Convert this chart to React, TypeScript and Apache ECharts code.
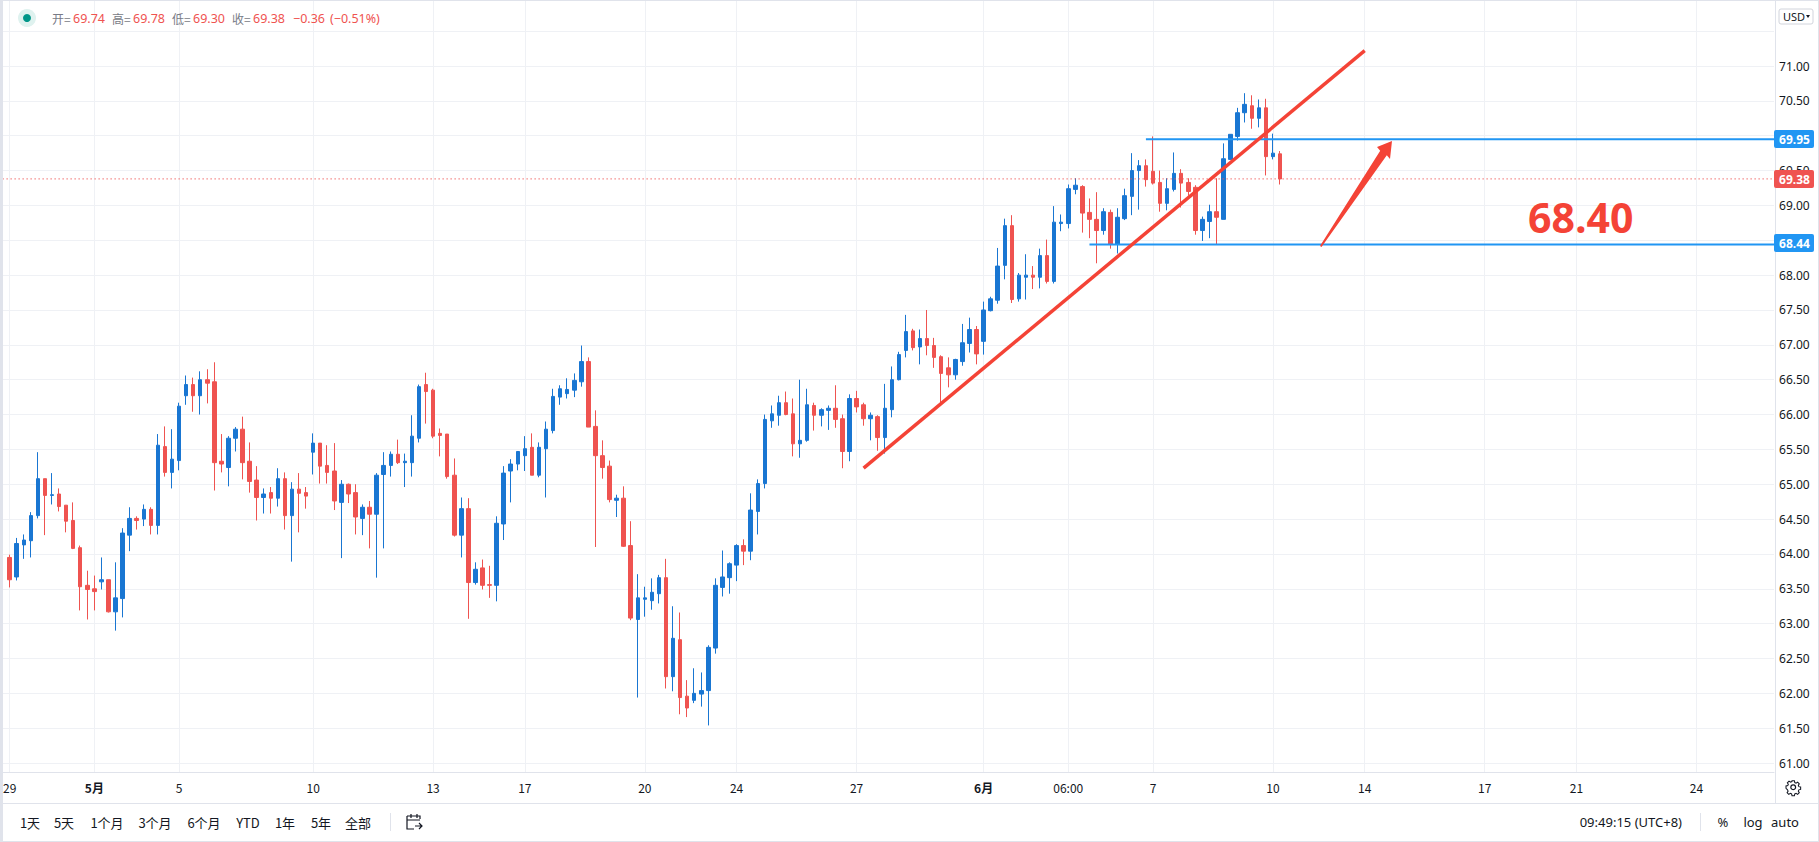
import React, { useEffect, useRef } from "react";
import * as echarts from "echarts";

// [open, close, low, high]
const candles: number[][] = [
  [63.95,63.63,63.52,63.99],[63.67,64.15,63.62,64.23],[64.13,64.20,63.93,64.28],[64.19,64.55,63.95,64.60],[64.55,65.08,64.51,65.46],
  [65.08,64.84,64.27,65.08],[64.84,64.85,64.71,65.16],[64.86,64.68,64.61,64.94],[64.70,64.47,64.31,64.70],[64.48,64.08,64.07,64.74],
  [64.09,63.53,63.19,64.12],[63.55,63.49,63.06,63.76],[63.50,63.46,63.19,63.69],[63.60,63.63,63.49,63.95],[63.63,63.17,63.16,63.63],
  [63.17,63.37,62.90,63.88],[63.36,64.30,63.09,64.37],[64.27,64.51,64.04,64.67],[64.51,64.48,64.35,64.54],[64.50,64.64,64.40,64.71],
  [64.64,64.41,64.28,64.67],[64.41,65.56,64.28,65.72],[65.54,65.17,65.11,65.83],[65.17,65.36,64.94,65.79],[65.34,66.12,65.20,66.17],
  [66.27,66.43,66.14,66.56],[66.43,66.27,66.04,66.53],[66.27,66.50,66.00,66.62],[66.50,66.45,66.16,66.65],[66.47,65.31,64.91,66.75],
  [65.33,65.29,65.17,65.72],[65.24,65.66,64.97,65.69],[65.66,65.79,65.47,65.82],[65.79,65.31,65.07,65.97],[65.33,65.04,64.88,65.60],
  [65.06,64.81,64.48,65.26],[64.81,64.86,64.58,64.94],[64.88,64.80,64.58,64.96],[64.80,65.08,64.68,65.23],[65.08,64.55,64.35,65.17],
  [64.55,64.93,63.89,65.03],[64.93,64.87,64.31,65.16],[64.88,64.83,64.65,64.96],[65.46,65.59,65.14,65.73],[65.59,65.26,65.01,65.59],
  [65.27,65.17,65.01,65.56],[65.19,64.76,64.63,65.59],[64.74,65.00,63.94,65.06],[65.00,64.86,64.73,65.01],[64.88,64.53,64.28,65.00],
  [64.51,64.67,64.27,64.71],[64.67,64.57,64.08,64.76],[64.57,65.13,63.66,65.16],[65.14,65.27,64.08,65.46],[65.27,65.43,65.11,65.47],
  [65.43,65.31,65.29,65.64],[65.31,65.33,64.96,65.44],[65.31,65.69,65.11,65.99],[65.66,66.40,65.60,66.43],[66.43,66.33,65.87,66.60],
  [66.35,65.69,65.66,66.37],[65.73,65.70,65.40,65.80],[65.72,65.11,65.08,65.72],[65.13,64.27,64.25,65.37],[64.27,64.65,63.95,64.81],
  [64.65,63.59,63.07,64.80],[63.59,63.78,63.56,63.88],[63.80,63.55,63.49,63.92],[63.56,63.55,63.37,63.83],[63.55,64.44,63.32,64.54],
  [64.43,65.16,64.20,65.26],[65.19,65.29,64.74,65.36],[65.29,65.47,65.20,65.47],[65.41,65.51,65.19,65.69],[65.53,65.13,65.13,65.73],
  [65.13,65.53,65.10,65.60],[65.51,65.79,64.81,65.90],[65.77,66.26,65.73,66.37],[66.25,66.37,66.14,66.42],[66.30,66.36,66.23,66.52],
  [66.35,66.49,66.25,66.59],[66.47,66.76,66.40,66.99],[66.76,65.82,65.82,66.82],[65.83,65.41,64.10,66.06],[65.41,65.24,65.08,65.63],
  [65.26,64.78,64.74,65.34],[64.77,64.80,64.53,64.85],[64.80,64.11,64.10,64.97],[64.12,63.08,63.05,64.47],[63.06,63.37,61.94,63.71],
  [63.35,63.37,63.10,63.53],[63.33,63.45,63.20,63.65],[63.43,63.66,63.29,63.70],[63.66,62.24,62.07,63.93],[62.24,62.79,62.03,63.25],
  [62.77,61.94,61.70,63.16],[61.96,61.79,61.66,62.19],[61.90,62.00,61.86,62.36],[61.99,62.04,61.81,62.30],[62.04,62.66,61.54,62.69],
  [62.65,63.55,62.57,63.65],[63.52,63.67,63.39,64.05],[63.66,63.86,63.43,63.88],[63.84,64.12,63.61,64.14],[64.12,64.04,63.84,64.21],
  [64.04,64.63,63.91,64.87],[64.61,65.01,64.28,65.07],[65.01,65.93,64.94,66.00],[65.91,66.01,65.81,66.13],[65.99,66.17,65.84,66.27],
  [66.17,66.00,65.99,66.33],[66.01,65.58,65.40,66.23],[65.58,65.63,65.38,66.50],[65.63,66.14,65.61,66.37],[66.13,65.99,65.77,66.17],
  [65.99,66.07,65.83,66.09],[66.06,66.09,65.78,66.13],[66.09,65.93,65.81,66.42],[65.94,65.47,65.23,66.00],[65.47,66.23,65.33,66.29],
  [66.23,66.11,66.03,66.34],[66.14,65.94,65.84,66.17],[65.94,65.99,65.63,66.03],[65.97,65.67,65.48,65.99],[65.67,66.09,65.44,66.44],
  [66.07,66.50,65.96,66.69],[66.50,66.86,66.49,66.90],[66.92,67.19,66.82,67.43],[67.20,66.96,66.92,67.23],[66.97,67.09,66.72,67.22],
  [67.09,66.99,66.85,67.50],[66.99,66.82,66.67,67.10],[66.83,66.59,66.17,66.85],[66.67,66.57,66.39,66.82],[66.57,66.79,66.50,66.80],
  [66.76,67.03,66.70,67.30],[67.02,67.22,66.89,67.39],[67.22,66.87,66.72,67.27],[67.05,67.50,66.86,67.62],[67.49,67.66,67.48,67.69],
  [67.64,68.13,67.59,68.39],[68.14,68.71,67.94,68.81],[68.71,67.65,67.60,68.86],[67.66,68.00,67.62,68.03],[67.97,68.00,67.65,68.30],
  [68.00,67.97,67.80,68.13],[67.97,68.28,67.81,68.38],[68.28,67.91,67.88,68.51],[67.91,68.76,67.88,68.99],[68.74,68.76,68.63,68.87],
  [68.74,69.24,68.67,69.30],[69.23,69.29,69.16,69.39],[69.27,68.89,68.61,69.29],[68.90,68.80,68.53,69.10],[68.80,68.64,68.17,69.19],
  [68.64,68.91,68.58,68.96],[68.90,68.44,68.38,68.94],[68.44,68.83,68.31,68.96],[68.81,69.14,68.79,69.24],[69.13,69.50,68.86,69.75],
  [69.50,69.57,68.94,69.65],[69.57,69.37,69.27,69.66],[69.49,69.32,69.30,69.99],[69.33,69.03,68.91,69.50],[69.03,69.24,68.93,69.39],
  [69.23,69.46,69.20,69.76],[69.46,69.32,68.97,69.52],[69.33,69.20,69.14,69.39],[69.26,68.64,68.58,69.29],[68.64,68.80,68.49,68.84],
  [68.77,68.91,68.53,69.01],[68.91,68.83,68.44,69.39],[68.80,69.67,68.80,69.89],[69.66,70.02,69.66,70.02],[69.99,70.33,69.93,70.40],
  [70.33,70.45,70.19,70.61],[70.43,70.25,70.10,70.58],[70.25,70.40,70.12,70.52],[70.40,69.70,69.43,70.53],[69.70,69.75,69.66,70.03],
  [69.74,69.38,69.30,69.78],
];

const slotCount = 252;
const xTickSlots = [1, 13, 25, 44, 61, 74, 91, 104, 121, 139, 151, 163, 180, 193, 210, 223, 240];
const xTickLabels = ["29", "5月", "5", "10", "13", "17", "20", "24", "27", "6月", "06:00", "7", "10", "14", "17", "21", "24"];
const yGridValues = [61, 61.5, 62, 62.5, 63, 63.5, 64, 64.5, 65, 65.5, 66, 66.5, 67, 67.5, 68, 68.5, 69, 69.5, 70, 70.5, 71, 71.5];
const yLabelValues = [61, 61.5, 62, 62.5, 63, 63.5, 64, 64.5, 65, 65.5, 66, 66.5, 67, 67.5, 68, 68.5, 69, 69.5, 70, 70.5, 71];

const trendLine = [[122, 65.23], [193, 71.22]];
const resistanceLine = [[162, 69.95], [251, 69.95]];
const supportLine = [[154, 68.44], [251, 68.44]];
const lastPriceLine = [[0, 69.38], [251, 69.38]];

const headerItems = [
  { label: "开=", value: "69.74", lx: 52, vx: 73 },
  { label: "高=", value: "69.78", lx: 112, vx: 133 },
  { label: "低=", value: "69.30", lx: 172, vx: 193 },
  { label: "收=", value: "69.38", lx: 232, vx: 253 },
];
const rangeButtons = [
  ["1天", 30], ["5天", 64], ["1个月", 107], ["3个月", 155], ["6个月", 204],
  ["YTD", 248], ["1年", 285], ["5年", 321], ["全部", 358],
] as [string, number][];
const priceTags = [
  { text: "69.95", y: 139, color: "#2196f3" },
  { text: "69.38", y: 179, color: "#ef5350" },
  { text: "68.44", y: 243, color: "#2196f3" },
];

const CJK = '"Noto Sans CJK SC","Noto Sans",sans-serif';
const LATIN = '"Noto Sans","Noto Sans CJK SC",sans-serif';
const GRID = "#eff1f5";
const BORDER = "#e0e3eb";
const TEXT = "#131722";
const RED = "#ef5350";
const BLUE = "#1976d2";
const ANNOT = "#f44336";

echarts.graphic.registerShape(
  "gearIcon",
  echarts.graphic.extendPath(
    "M7.5 1h3l.5 2.2 1.6.7 1.9-1.2 2.1 2.1-1.2 1.9.7 1.6 2.2.5v3l-2.2.5-.7 1.6 1.2 1.9-2.1 2.1-1.9-1.2-1.6.7-.5 2.2h-3l-.5-2.2-1.6-.7-1.9 1.2-2.1-2.1 1.2-1.9-.7-1.6L0 10.5v-3l2.2-.5.7-1.6-1.2-1.9 2.1-2.1 1.9 1.2 1.6-.7z",
    {}
  )
);
echarts.graphic.registerShape(
  "dateIcon",
  echarts.graphic.extendPath("M1 2h13v3M1 2v13h7M1 6h13M5 0v4M11 0v4M9 12h7M13 9l3 3-3 3", {})
);

function lineSeries(data: number[][], color: string, width: number, type: any, z: number) {
  return {
    type: "line",
    data,
    silent: true,
    showSymbol: false,
    symbol: "none",
    z,
    lineStyle: { color, width, type },
    itemStyle: { color },
  };
}

export default function App() {
  const ref = useRef<HTMLDivElement>(null);
  useEffect(() => {
    document.body.style.margin = "0";
    document.body.style.overflow = "hidden";
    const chart = echarts.init(ref.current!, null, { renderer: "svg" });
    const categories: string[] = Array.from({ length: slotCount }, () => "");
    xTickSlots.forEach((s, i) => (categories[s] = xTickLabels[i]));
    const isTick = (i: number) => xTickSlots.includes(i);
    const seriesData: any[] = [["-", "-", "-", "-"], ...candles];

    const graphic: any[] = [
      { type: "rect", shape: { x: 0, y: 0, width: 3, height: 842 }, style: { fill: BORDER }, z: 100 },
      { type: "rect", shape: { x: 0, y: 0, width: 1819, height: 1 }, style: { fill: BORDER }, z: 100 },
      { type: "rect", shape: { x: 0, y: 841, width: 1819, height: 1 }, style: { fill: BORDER }, z: 100 },
      { type: "rect", shape: { x: 1818, y: 0, width: 1, height: 842 }, style: { fill: BORDER }, z: 100 },
      { type: "rect", shape: { x: 3, y: 803, width: 1816, height: 1 }, style: { fill: BORDER }, z: 100 },
      { type: "rect", shape: { x: 1775, y: 0, width: 1, height: 803 }, style: { fill: BORDER }, z: 100 },
      // legend dot
      { type: "circle", shape: { cx: 27, cy: 18, r: 9 }, style: { fill: "#dff2ef" }, z: 100 },
      { type: "circle", shape: { cx: 27, cy: 18, r: 4 }, style: { fill: "#009688" }, z: 101 },
      // annotation arrow
      {
        type: "polygon",
        shape: { points: [[1320, 246], [1380.2, 150.7], [1377, 147], [1392, 141], [1390, 159], [1386.8, 155.3], [1321.5, 247]] },
        style: { fill: ANNOT },
        z: 60,
      },
      {
        type: "text",
        x: 1528,
        y: 217,
        style: { text: "68.40", fill: ANNOT, font: `bold 41px "Open Sans",sans-serif`, textVerticalAlign: "middle", textAlign: "left" },
        z: 60,
      },
      // USD button
      {
        type: "rect",
        shape: { x: 1779, y: 9, width: 34, height: 15, r: 2 },
        style: { fill: "#fff", stroke: "#d1d4dc", lineWidth: 1 },
        z: 100,
      },
      {
        type: "text",
        x: 1783,
        y: 16.5,
        style: { text: "USD", fill: TEXT, font: `11px ${LATIN}`, textVerticalAlign: "middle" },
        z: 101,
      },
      { type: "polygon", shape: { points: [[1806, 15], [1810, 15], [1808, 18]] }, style: { fill: TEXT }, z: 101 },
      // toolbar separators + icons
      { type: "rect", shape: { x: 390, y: 813, width: 1, height: 18 }, style: { fill: BORDER }, z: 100 },
      { type: "rect", shape: { x: 1700, y: 813, width: 1, height: 18 }, style: { fill: BORDER }, z: 100 },
      { type: "dateIcon", x: 406, y: 814, style: { fill: "none", stroke: TEXT, lineWidth: 1.2 }, z: 100 },
      { type: "gearIcon", x: 1786, y: 780, scaleX: 0.8, scaleY: 0.8, style: { fill: "none", stroke: TEXT, lineWidth: 1.3 }, z: 100 },
      { type: "circle", shape: { cx: 1793.2, cy: 787.2, r: 2.4 }, style: { fill: "none", stroke: TEXT, lineWidth: 1.2 }, z: 100 },
      // status text
      {
        type: "text",
        x: 1682,
        y: 822,
        style: { text: "09:49:15 (UTC+8)", fill: TEXT, font: `13px ${LATIN}`, textAlign: "right", textVerticalAlign: "middle" },
        z: 100,
      },
      ...[["%", 1723], ["log", 1753], ["auto", 1785]].map(([t, x]) => ({
        type: "text",
        x,
        y: 822,
        style: { text: t, fill: TEXT, font: `13px ${LATIN}`, textAlign: "center", textVerticalAlign: "middle" },
        z: 100,
      })),
      ...rangeButtons.map(([t, x]) => ({
        type: "text",
        x,
        y: 822,
        style: { text: t, fill: TEXT, font: `13px ${CJK}`, textAlign: "center", textVerticalAlign: "middle" },
        z: 100,
      })),
      // header
      ...headerItems.flatMap((h) => [
        {
          type: "text",
          x: h.lx,
          y: 18,
          style: { text: h.label, fill: "#787b86", font: `12px ${CJK}`, textVerticalAlign: "middle" },
          z: 100,
        },
        {
          type: "text",
          x: h.vx,
          y: 18,
          style: { text: h.value, fill: RED, font: `12.5px ${LATIN}`, textVerticalAlign: "middle" },
          z: 100,
        },
      ]),
      {
        type: "text",
        x: 293,
        y: 18,
        style: { text: "−0.36", fill: RED, font: `12.5px ${LATIN}`, textVerticalAlign: "middle" },
        z: 100,
      },
      {
        type: "text",
        x: 330,
        y: 18,
        style: { text: "(−0.51%)", fill: RED, font: `12.5px ${LATIN}`, textVerticalAlign: "middle" },
        z: 100,
      },
      // price tags
      ...priceTags.flatMap((t) => [
        { type: "rect", shape: { x: 1774, y: t.y - 9, width: 40, height: 18, r: 2 }, style: { fill: t.color }, z: 100 },
        {
          type: "text",
          x: 1794.5,
          y: t.y,
          style: { text: t.text, fill: "#fff", font: `bold 12px ${LATIN}`, textAlign: "center", textVerticalAlign: "middle" },
          z: 101,
        },
      ]),
    ];

    chart.setOption({
      animation: false,
      backgroundColor: "#ffffff",
      grid: { left: 0.23, top: -1, width: 1773.8, height: 773, containLabel: false },
      xAxis: {
        type: "category",
        boundaryGap: false,
        data: categories,
        axisLine: { show: true, lineStyle: { color: BORDER } },
        axisTick: { show: false, interval: (i: number) => isTick(i) },
        splitLine: { show: true, interval: (i: number) => isTick(i), lineStyle: { color: GRID, width: 1 } },
        axisLabel: {
          show: true,
          interval: (i: number) => isTick(i),
          margin: 9,
          hideOverlap: false,
          showMinLabel: true,
          color: TEXT,
          fontSize: 12,
          fontFamily: CJK,
          formatter: (v: string) => (v.endsWith("月") ? `{b|${v}}` : v),
          rich: { b: { fontWeight: "bold", fontSize: 12, fontFamily: CJK, color: TEXT } },
        },
      },
      yAxis: {
        type: "value",
        position: "right",
        min: 60.872,
        max: 71.947,
        scale: true,
        axisLine: { show: false },
        axisTick: { show: false, customValues: yGridValues },
        splitLine: { show: true, lineStyle: { color: GRID, width: 1 } },
        axisLabel: {
          customValues: yLabelValues,
          margin: 5,
          color: TEXT,
          fontSize: 12,
          fontFamily: LATIN,
          formatter: (v: number) => v.toFixed(2),
        },
      },
      graphic,
      series: [
        {
          type: "candlestick",
          data: seriesData,
          barWidth: 4,
          silent: true,
          z: 10,
          itemStyle: { color: BLUE, color0: RED, borderColor: BLUE, borderColor0: RED, borderWidth: 1 },
        },
        lineSeries(lastPriceLine, RED, 1.2, [1, 3], 11),
        lineSeries(supportLine, "#2196f3", 2, "solid", 12),
        lineSeries(resistanceLine, "#2196f3", 2, "solid", 12),
        lineSeries(trendLine, ANNOT, 3.5, "solid", 13),
      ],
    });
    return () => chart.dispose();
  }, []);
  return <div ref={ref} style={{ width: 1819, height: 842 }} />;
}
